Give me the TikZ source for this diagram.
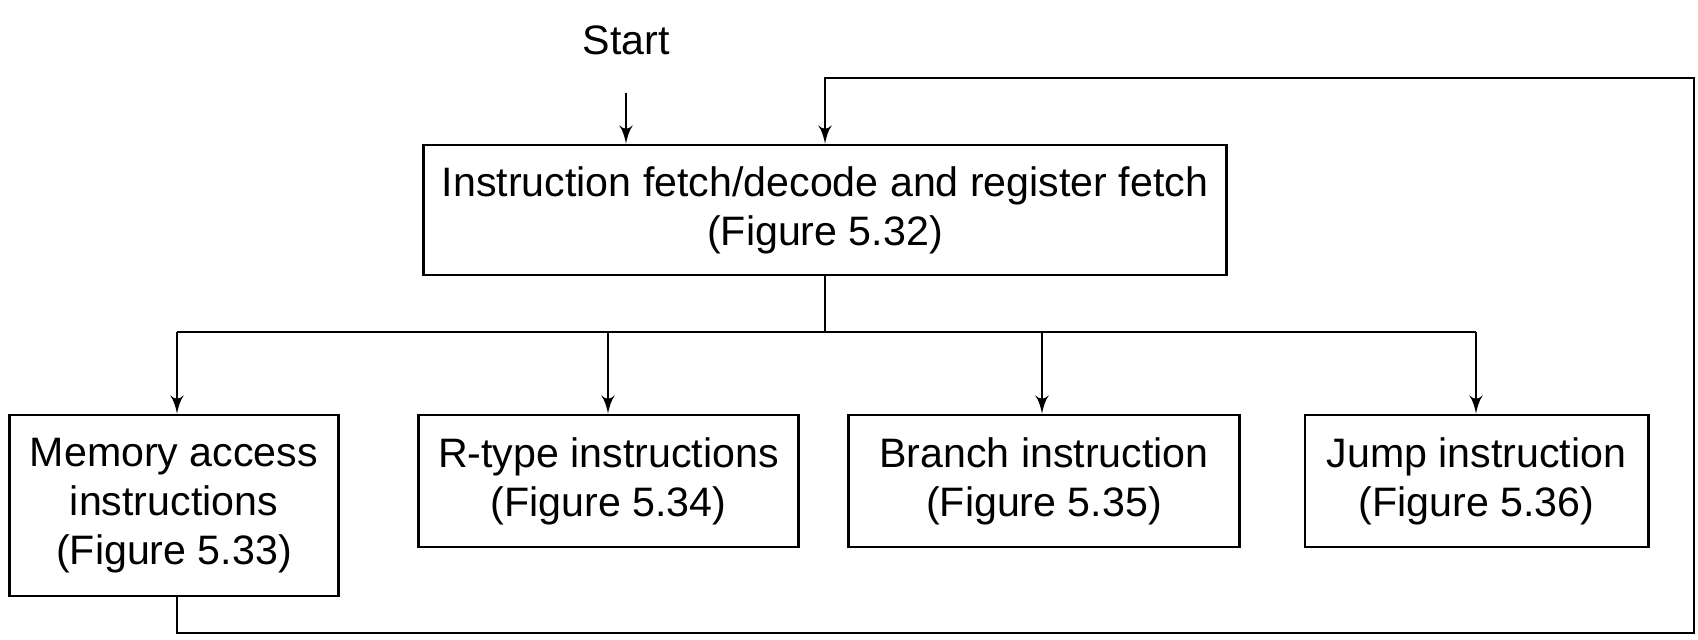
\documentclass[tikz,border=0pt]{standalone}
\usepackage{fontspec}
\setmainfont{Liberation Sans}
\usetikzlibrary{arrows}

\begin{document}
\begin{tikzpicture}[x=0.01cm,y=-0.01cm,>=latex',line width=0.8pt,
  box node/.style={rectangle,draw,align=center,inner sep=0pt,
    font=\fontsize{11.7}{14}\selectfont,minimum height=1.32cm},
  label node/.style={font=\fontsize{11.7}{14}\selectfont,inner sep=1pt}]

  \useasboundingbox (0,0) rectangle (1698,639);

  \node[label node] (Start) at (626,40) {Start};
  \node[box node,minimum width=8.03cm,minimum height=1.30cm] (Fetch) at (825,210)
    {Instruction fetch/decode and register fetch\\(Figure 5.32)};

  \node[box node,minimum width=3.28cm,minimum height=1.81cm] (Memory) at (174,505.5)
    {Memory access\\instructions\\(Figure 5.33)};
  \node[box node,minimum width=3.79cm] (RType) at (608.5,481)
    {R-type instructions\\(Figure 5.34)};
  \node[box node,minimum width=3.90cm] (Branch) at (1044,481)
    {Branch instruction\\(Figure 5.35)};
  \node[box node,minimum width=3.43cm] (Jump) at (1476.5,481)
    {Jump instruction\\(Figure 5.36)};

  \coordinate (BusL) at (177,332);
  \coordinate (BusR) at (1476,332);
  \coordinate (LoopBL) at (177,633);
  \coordinate (LoopBR) at (1694,633);
  \coordinate (LoopTR) at (1694,78);
  \coordinate (LoopTL) at (825,78);

  \draw[->] (Start.south) ++(0,34) -- (Start.south |- Fetch.north);
  \draw (Fetch.south) -- (Fetch.south |- BusL);
  \draw (BusL) -- (BusR);
  \foreach \n/\x in {Memory/177,RType/608,Branch/1042,Jump/1476}
    \draw[->] (\x,332) -- (\x,0 |- \n.north);

  \draw[->] (Memory.south -| LoopBL) -- (LoopBL) -- (LoopBR) -- (LoopTR)
    -- (LoopTL) -- (Fetch.north);
\end{tikzpicture}
\end{document}
